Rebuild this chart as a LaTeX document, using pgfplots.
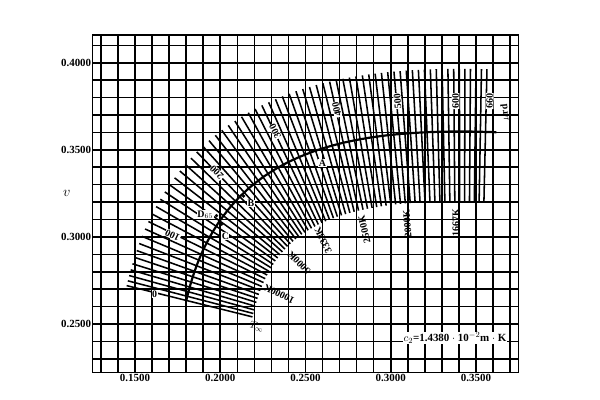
\documentclass[border=0pt]{standalone}
\usepackage{pgfplots}
\pgfplotsset{compat=1.18}
\usepackage{pgfplotstable}
\usepackage{fontspec}
\setmainfont{Liberation Serif}
\tikzset{
  lab/.style={font=\fontsize{10}{10}\selectfont\bfseries, fill=white, inner sep=0.5pt},
  klab/.style={font=\fontsize{10}{10}\selectfont\bfseries, inner sep=0.4pt},
}
\begin{document}
\pgfplotstableread{
m pu pv a
0 0.18006 0.26352 -13.68
10 0.18066 0.26589 -14.29
20 0.18133 0.26846 -15.04
30 0.18208 0.27119 -15.93
40 0.18293 0.27407 -16.95
50 0.18388 0.27709 -18.09
60 0.18494 0.28021 -19.37
70 0.18611 0.28342 -20.76
80 0.18740 0.28668 -22.27
90 0.18880 0.28997 -23.89
100 0.19032 0.29326 -25.59
110 0.19204 0.29652 -27.43
120 0.19376 0.29978 -29.28
130 0.19562 0.30297 -31.19
140 0.19762 0.30609 -33.18
150 0.19962 0.30921 -35.17
160 0.20187 0.31211 -37.23
170 0.20412 0.31501 -39.30
180 0.20648 0.31780 -41.37
190 0.20895 0.32046 -43.44
200 0.21142 0.32312 -45.51
210 0.21408 0.32551 -47.54
220 0.21674 0.32790 -49.57
230 0.21948 0.33015 -51.56
240 0.22229 0.33227 -53.50
250 0.22511 0.33439 -55.43
260 0.22805 0.33625 -57.25
270 0.23099 0.33811 -59.06
280 0.23400 0.33985 -60.80
290 0.23705 0.34147 -62.47
300 0.24010 0.34308 -64.14
310 0.24323 0.34447 -65.66
320 0.24636 0.34586 -67.18
330 0.24952 0.34714 -68.62
340 0.25272 0.34832 -69.99
350 0.25591 0.34951 -71.36
360 0.25915 0.35051 -72.58
370 0.26239 0.35150 -73.79
380 0.26564 0.35241 -74.94
390 0.26891 0.35324 -76.02
400 0.27218 0.35407 -77.09
410 0.27546 0.35475 -78.04
420 0.27874 0.35543 -78.99
430 0.28204 0.35604 -79.88
440 0.28534 0.35659 -80.71
450 0.28863 0.35714 -81.54
460 0.29192 0.35758 -82.27
470 0.29521 0.35801 -83.00
480 0.29849 0.35840 -83.68
490 0.30177 0.35874 -84.31
500 0.30505 0.35907 -84.95
510 0.30831 0.35931 -85.51
520 0.31157 0.35956 -86.06
530 0.31482 0.35977 -86.58
540 0.31806 0.35994 -87.07
550 0.32129 0.36011 -87.55
560 0.32450 0.36022 -87.97
570 0.32771 0.36033 -88.38
580 0.33090 0.36041 -88.77
590 0.33407 0.36046 -89.14
600 0.33724 0.36051 -89.51
610 0.34035 0.36053 -89.85
620 0.34343 0.36052 -90.15
630 0.34650 0.36048 -90.45
640 0.34955 0.36042 -90.75
650 0.35258 0.36035 -91.05
660 0.35560 0.36027 -91.35
}\iso
\begin{tikzpicture}
\useasboundingbox (0,0) rectangle (600bp,400bp);
\begin{axis}[
  at={(92.4bp,27.6bp)}, anchor=south west,
  width=426.2bp, height=337.2bp, scale only axis,
  xmin=0.125, xmax=0.375, ymin=0.2222, ymax=0.4158,
  xtick={0.15,0.20,0.25,0.30,0.35},
  ytick={0.25,0.30,0.35,0.40},
  minor xtick={0.13,0.14,0.16,0.17,0.18,0.19,0.21,0.22,0.23,0.24,0.26,0.27,0.28,0.29,0.31,0.32,0.33,0.34,0.36,0.37},
  minor ytick={0.23,0.24,0.26,0.27,0.28,0.29,0.31,0.32,0.33,0.34,0.36,0.37,0.38,0.39,0.41},
  grid=both,
  major grid style={black, line width=1.6pt},
  minor grid style={black, line width=1.6pt},
  major tick length=0pt, minor tick length=0pt,
  axis line style={line width=1.8pt},
  clip=false,
  /pgf/number format/.cd, fixed, fixed zerofill, precision=4, assume math mode=true,
  /pgfplots/.cd,
  xticklabel style={font=\fontsize{11}{11}\selectfont\bfseries, inner sep=1.5pt},
  yticklabel style={font=\fontsize{11}{11}\selectfont\bfseries, inner sep=1pt},
]
% isotemperature lines (every 10 mired)
\addplot[black, line width=1.55pt, mark=none,
  quiver={u={0.076*cos(\thisrow{a})}, v={0.076*sin(\thisrow{a})}}]
  table[x expr={\thisrow{pu}-0.036*cos(\thisrow{a})}, y expr={\thisrow{pv}-0.036*sin(\thisrow{a})}] {\iso};
% Planckian locus
\addplot[black, line width=2.2pt, mark=none] table[x=pu, y=pv] {\iso};
\addplot[black, line width=2.2pt, mark=none] coordinates {(0.35560,0.36027) (0.3620,0.3601)};
% illuminant points
\addplot[only marks, mark=*, mark size=1.5pt, black] coordinates {(0.25597,0.34954) (0.21367,0.32344) (0.20090,0.30732) (0.19783,0.31223)};
% mired labels
\node[lab] at (axis cs:0.1615,0.2672) {0};
\node[lab, rotate=154.4] at (axis cs:0.1720,0.3010) {100};
\node[lab, rotate=134.5] at (axis cs:0.1980,0.3370) {200};
\node[lab, rotate=116] at (axis cs:0.2322,0.3606) {300};
\node[lab, rotate=103] at (axis cs:0.2683,0.3732) {400};
\node[lab, rotate=95] at (axis cs:0.3040,0.3780) {500};
\node[lab, rotate=90.5] at (axis cs:0.3380,0.3780) {600};
\node[lab, rotate=88.7] at (axis cs:0.3580,0.3780) {660};
\node[klab, rotate=95] at (axis cs:0.3672,0.3715) {$\mu$rd};
% temperature labels
\node[klab, rotate=-14] at (axis cs:0.2215,0.2482) {$T_\infty$};
\node[klab, rotate=154.4] at (axis cs:0.2345,0.2672) {10000K};
\node[klab, rotate=134.5] at (axis cs:0.2462,0.2852) {5000K};
\node[klab, rotate=116] at (axis cs:0.2603,0.2980) {3333K};
\node[klab, rotate=103] at (axis cs:0.2845,0.3042) {2500K};
\node[klab, rotate=95] at (axis cs:0.3097,0.3076) {2000K};
\node[klab, rotate=90.5] at (axis cs:0.3382,0.3080) {1667K};
% illuminant labels
\node[lab] at (axis cs:0.2600,0.3423) {A};
\node[lab] at (axis cs:0.2180,0.3193) {B};
\node[lab] at (axis cs:0.2030,0.3005) {C};
\node[lab] at (axis cs:0.1912,0.3128) {D$_{65}$};
% constant
\node[font=\fontsize{11}{11}\selectfont\bfseries, fill=white, inner sep=1pt] at (axis cs:0.3377,0.2420) {$c_2$=1.4380 $\cdot$ 10$^{-2}$m $\cdot$ K};
% axis label
\node[font=\fontsize{14}{14}\selectfont] at (axis cs:0.110,0.325) {$v$};
\end{axis}
\end{tikzpicture}
\end{document}
